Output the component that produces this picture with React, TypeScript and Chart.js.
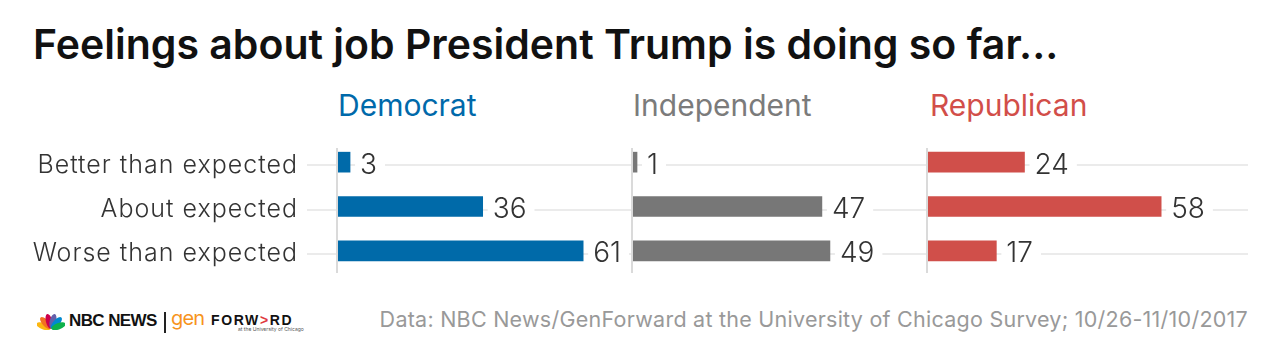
import React, { useEffect, useRef } from "react";
import { Chart, registerables } from "chart.js";

Chart.register(...registerables);

const categories = ["Better than expected", "About expected", "Worse than expected"];
const democrat = [3, 36, 61];
const independent = [1, 47, 49];
const republican = [24, 58, 17];
const panelNames = ["Democrat", "Independent", "Republican"];
const panelSeries = [democrat, independent, republican];
const barColors = ["#006aa9", "#777777", "#d04f4a"];
const headerColors = ["#0069aa", "#7b7b7b", "#d24e49"];
const panelMax = [73.4, 73.4, 79.6];

const TITLE = "Feelings about job President Trump is doing so far...";
const SOURCE = "Data: NBC News/GenForward at the University of Chicago Survey; 10/26-11/10/2017";

const FONT = "Inter, Lato, 'Open Sans', sans-serif";

// panel canvas geometry
const panels = [
  { left: 0, width: 633, padLeft: 338, gridFromOffset: -31, showLabels: true },
  { left: 625, width: 303, padLeft: 8, gridFromOffset: 0, showLabels: false },
  { left: 920, width: 328, padLeft: 8, gridFromOffset: 0, showLabels: false },
];

const decoPlugin = {
  id: "panelDeco",
  beforeDatasetsDraw(chart: any, _args: any, opts: any) {
    const { ctx, chartArea } = chart;
    const ys = chart.scales.y;
    ctx.save();
    ctx.strokeStyle = "#ebebeb";
    ctx.lineWidth = 2;
    for (let i = 0; i < categories.length; i++) {
      const py = Math.round(ys.getPixelForValue(i)) + 3;
      ctx.beginPath();
      ctx.moveTo(chartArea.left + opts.gridFromOffset, py);
      ctx.lineTo(chartArea.right, py);
      ctx.stroke();
    }
    if (opts.showLabels) {
      ctx.font = `300 25px ${FONT}`;
      (ctx as any).letterSpacing = "1px";
      ctx.fillStyle = "#333333";
      ctx.textAlign = "right";
      ctx.textBaseline = "middle";
      for (let i = 0; i < categories.length; i++) {
        const py = ys.getPixelForValue(i) + 3;
        const w = ctx.measureText(categories[i]).width;
        ctx.save();
        ctx.fillStyle = "#ffffff";
        ctx.fillRect(chartArea.left - 41 - w - 4, py - 14, w + 14, 28);
        ctx.restore();
        ctx.fillText(categories[i], chartArea.left - 40, py);
      }
      (ctx as any).letterSpacing = "0px";
    }
    ctx.strokeStyle = "#dadada";
    ctx.lineWidth = 2;
    ctx.beginPath();
    ctx.moveTo(chartArea.left - 1, chartArea.top + 8);
    ctx.lineTo(chartArea.left - 1, chartArea.bottom);
    ctx.stroke();
    ctx.restore();
  },
  afterDatasetsDraw(chart: any) {
    const { ctx } = chart;
    const meta = chart.getDatasetMeta(0);
    const data = chart.data.datasets[0].data;
    ctx.save();
    ctx.font = `300 28px ${FONT}`;
    ctx.textBaseline = "middle";
    ctx.textAlign = "left";
    meta.data.forEach((bar: any, i: number) => {
      const txt = String(data[i]);
      const x = bar.x + 10;
      const y = bar.y + 3;
      const w = ctx.measureText(txt).width;
      ctx.fillStyle = "#ffffff";
      ctx.fillRect(x - 5, y - 15, w + 13, 30);
      ctx.fillStyle = "#333333";
      ctx.fillText(txt, x, y);
    });
    ctx.restore();
  },
};

function Panel({ index }: { index: number }) {
  const ref = useRef<HTMLCanvasElement | null>(null);
  useEffect(() => {
    let chart: any = null;
    let cancelled = false;
    const p = panels[index];
    const make = () => {
      if (cancelled || !ref.current) return;
      chart = new Chart(ref.current, {
        type: "bar",
        data: {
          labels: categories,
          datasets: [
            {
              data: panelSeries[index],
              backgroundColor: barColors[index],
              barThickness: 20,
              borderWidth: 0,
            },
          ],
        },
        options: {
          indexAxis: "y",
          animation: false,
          responsive: false,
          maintainAspectRatio: false,
          events: [],
          layout: { padding: { left: p.padLeft, right: 0, top: 0, bottom: 0 } },
          plugins: {
            legend: { display: false },
            tooltip: { enabled: false },
            panelDeco: { gridFromOffset: p.gridFromOffset, showLabels: p.showLabels },
          } as any,
          scales: {
            x: { min: 0, max: panelMax[index], display: false },
            y: { display: false },
          },
        },
        plugins: [decoPlugin],
      } as any);
    };
    const fonts = (document as any).fonts;
    if (fonts && fonts.load) {
      Promise.all([fonts.load(`300 25px Inter`), fonts.load(`300 28px Inter`)])
        .catch(() => {})
        .then(make);
    } else make();
    return () => {
      cancelled = true;
      if (chart) chart.destroy();
    };
  }, [index]);
  const p = panels[index];
  return (
    <canvas
      ref={ref}
      width={p.width}
      height={133}
      style={{ position: "absolute", left: p.left, top: 140, width: p.width, height: 133 }}
    />
  );
}

function Peacock() {
  const cols = ["#fcb711", "#f37021", "#cc004c", "#6460aa", "#0089d0", "#0db14b"];
  const angles = [-70, -42, -14, 14, 42, 70];
  return (
    <svg width={28} height={18} viewBox="0 0 28 18" style={{ position: "absolute", left: 37, top: 312 }}>
      {angles.map((a, i) => (
        <ellipse key={i} cx={14} cy={9} rx={3.2} ry={7.5} fill={cols[i]} transform={`rotate(${a} 14 17)`} />
      ))}
    </svg>
  );
}

export default function App() {
  const base: React.CSSProperties = {
    position: "absolute",
    fontFamily: FONT,
    lineHeight: 1,
    whiteSpace: "nowrap",
    margin: 0,
  };
  const headerLefts = [338, 633, 930];
  return (
    <div
      style={{
        position: "absolute",
        left: 0,
        top: 0,
        width: 1280,
        height: 364,
        background: "#ffffff",
        overflow: "hidden",
      }}
    >
      <div style={{ ...base, left: 33, top: 24, fontSize: 41, fontWeight: 600, color: "#111111" }}>{TITLE}</div>
      {panelNames.map((n, i) => (
        <div key={n} style={{ ...base, left: headerLefts[i], top: 90, fontSize: 30, color: headerColors[i] }}>
          {n}
        </div>
      ))}
      {[0, 1, 2].map((i) => (
        <Panel key={i} index={i} />
      ))}
      <Peacock />
      <div
        style={{
          ...base,
          left: 69,
          top: 312,
          fontFamily: "'Liberation Sans', Arial, sans-serif",
          fontWeight: 700,
          fontSize: 17,
          letterSpacing: -0.6,
          color: "#111",
        }}
      >
        NBC NEWS
      </div>
      <div style={{ position: "absolute", left: 164, top: 312, width: 1.5, height: 21, background: "#222" }} />
      <div
        style={{ ...base, left: 171, top: 308, fontSize: 20, letterSpacing: -0.8, color: "#f7941d", fontWeight: 400 }}
      >
        gen
      </div>
      <div
        style={{
          ...base,
          left: 211,
          top: 313,
          fontFamily: "'Liberation Sans', Arial, sans-serif",
          fontWeight: 700,
          fontSize: 14,
          letterSpacing: 1.6,
          color: "#111",
        }}
      >
        FORW<span style={{ color: "#e0393e" }}>&gt;</span>RD
      </div>
      <div style={{ ...base, left: 238, top: 327, fontSize: 5, color: "#555" }}>at the University of Chicago</div>
      <div style={{ ...base, right: 32, top: 309, fontSize: 21.5, letterSpacing: 0.25, color: "#999999" }}>{SOURCE}</div>
    </div>
  );
}
